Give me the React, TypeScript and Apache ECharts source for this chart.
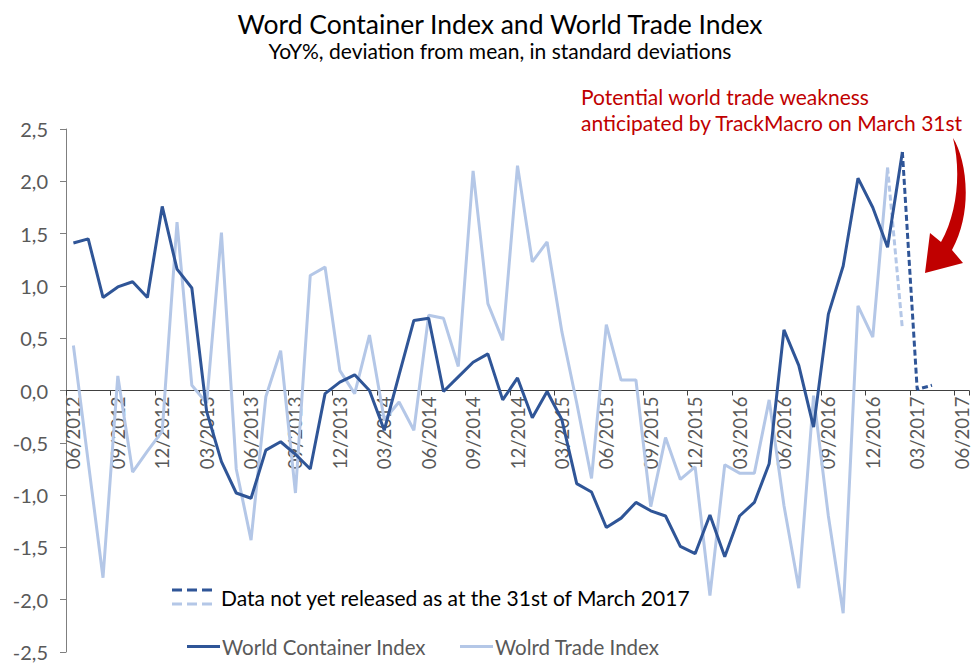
import React, { useEffect, useRef } from "react";
import * as echarts from "echarts";

// Monthly categories: 06/2012 .. 06/2017
const startYear = 2012;
const startMonth = 6;
const monthCount = 61;
const categories: string[] = [];
for (let i = 0; i < monthCount; i++) {
  const m0 = startMonth - 1 + i;
  const y = startYear + Math.floor(m0 / 12);
  const m = (m0 % 12) + 1;
  categories.push(`${m < 10 ? "0" + m : m}/${y}`);
}

// World Container Index (released data, 06/2012 .. 02/2017)
const wciValues: number[] = [
  1.41, 1.45, 0.89, 0.99, 1.04, 0.89, 1.76, 1.16, 0.98, -0.2,
  -0.68, -0.98, -1.03, -0.57, -0.49, -0.61, -0.75, -0.03, 0.08, 0.15,
  0.0, -0.38, 0.15, 0.67, 0.69, -0.01, 0.13, 0.27, 0.35, -0.09,
  0.12, -0.26, -0.01, -0.28, -0.89, -0.97, -1.31, -1.22, -1.07, -1.15,
  -1.2, -1.49, -1.56, -1.19, -1.59, -1.2, -1.07, -0.7, 0.58, 0.24,
  -0.35, 0.73, 1.19, 2.03, 1.75, 1.37, 2.28,
];
// World Container Index: data not yet released (02/2017 .. 04/2017)
const wciProjStart = 56;
const wciProjected: number[] = [2.28, 0.01, 0.05];

// World Trade Index (released data, 06/2012 .. 01/2017)
const wtiValues: number[] = [
  0.43, -0.68, -1.79, 0.14, -0.78, -0.58, -0.39, 1.61, 0.05, -0.12,
  1.51, -0.75, -1.43, -0.06, 0.38, -0.98, 1.1, 1.18, 0.19, -0.03,
  0.53, -0.28, -0.11, -0.38, 0.72, 0.69, 0.23, 2.1, 0.83, 0.48,
  2.15, 1.23, 1.42, 0.56, -0.12, -0.84, 0.63, 0.1, 0.1, -1.11,
  -0.45, -0.85, -0.73, -1.96, -0.71, -0.79, -0.79, -0.09, -1.1, -1.89,
  -0.05, -1.2, -2.13, 0.81, 0.51, 2.13,
];
// World Trade Index: data not yet released (01/2017 .. 02/2017)
const wtiProjStart = 55;
const wtiProjected: number[] = [2.13, 0.59];

const yTicks = { min: -2.5, max: 2.5, step: 0.5 };

const DARK = "#2f5597";
const LIGHT = "#b4c7e7";
const FONT = "Lato, 'Open Sans', sans-serif";

const GRID = { left: 66, right: 11, top: 129, bottom: 12 };
const CHART_H = 664;

const arrowPath =
  "M953 138 C966 158 974 210 952 250 L963 263 L925 273 L930 233 L941 242 C958 212 961 170 953 138 Z";
let registered = false;
function ensureShapes() {
  if (registered) return;
  echarts.graphic.registerShape("redArrow", echarts.graphic.extendPath(arrowPath, {}) as any);
  registered = true;
}

function padSeries(values: number[], start: number): (number | null)[] {
  const out: (number | null)[] = categories.map(() => null);
  values.forEach((v, k) => {
    out[start + k] = v;
  });
  return out;
}

function textEl(text: string, x: number, y: number, size: number, fill: string, align = "left") {
  return {
    type: "text",
    x,
    y,
    style: {
      text,
      fill,
      font: `${size}px ${FONT}`,
      textAlign: align,
      textVerticalAlign: "middle",
      align,
      verticalAlign: "middle",
    },
  };
}

export default function App() {
  const ref = useRef<HTMLDivElement>(null);
  useEffect(() => {
    if (!ref.current) return;
    ensureShapes();
    const chart = echarts.init(ref.current, undefined, { renderer: "svg" });
    // x axis sits on the zero line: shift it up from the grid's bottom edge
    const gridH = CHART_H - GRID.top - GRID.bottom;
    const zeroOffset = -gridH * ((0 - yTicks.min) / (yTicks.max - yTicks.min));
    const option: any = {
      animation: false,
      backgroundColor: "#ffffff",
      textStyle: { fontFamily: FONT },
      title: [
        {
          text: "Word Container Index and World Trade Index",
          left: 495,
          textAlign: "center",
          top: 5,
          textStyle: { fontSize: 26.5, fontWeight: "normal", color: "#000", fontFamily: FONT },
        },
        {
          text: "YoY%, deviation from mean, in standard deviations",
          left: 495,
          textAlign: "center",
          top: 35,
          textStyle: { fontSize: 21, fontWeight: "normal", color: "#000", fontFamily: FONT },
        },
      ],
      grid: { ...GRID, containLabel: false, outerBoundsMode: "none" },
      xAxis: {
        type: "category",
        data: categories,
        boundaryGap: true,
        offset: zeroOffset,
        axisLine: { onZero: false, lineStyle: { color: "#404040", width: 1 } },
        axisTick: { show: true, interval: 2, length: 5, lineStyle: { color: "#404040" } },
        axisLabel: {
          interval: 2,
          rotate: 90,
          margin: 6,
          fontSize: 18.5,
          color: "#595959",
          fontFamily: FONT,
        },
        splitLine: { show: false },
      },
      yAxis: {
        type: "value",
        min: yTicks.min,
        max: yTicks.max,
        interval: yTicks.step,
        axisLine: { show: true, lineStyle: { color: "#7f7f7f" } },
        axisTick: { show: true, length: 6, lineStyle: { color: "#7f7f7f" } },
        axisLabel: {
          fontSize: 20,
          color: "#595959",
          margin: 18,
          fontFamily: FONT,
          formatter: (v: number) => v.toFixed(1).replace(".", ","),
        },
        splitLine: { show: false },
      },
      series: [
        {
          name: "Wolrd Trade Index",
          type: "line",
          data: padSeries(wtiValues, 0),
          showSymbol: false,
          symbol: "none",
          lineStyle: { color: LIGHT, width: 3 },
          itemStyle: { color: LIGHT },
          z: 2,
        },
        {
          name: "Wolrd Trade Index (not yet released)",
          type: "line",
          data: padSeries(wtiProjected, wtiProjStart),
          showSymbol: false,
          symbol: "none",
          lineStyle: { color: LIGHT, width: 3, type: [6, 3] },
          z: 2,
        },
        {
          name: "World Container Index",
          type: "line",
          data: padSeries(wciValues, 0),
          showSymbol: false,
          symbol: "none",
          lineStyle: { color: DARK, width: 3 },
          itemStyle: { color: DARK },
          z: 3,
        },
        {
          name: "World Container Index (not yet released)",
          type: "line",
          data: padSeries(wciProjected, wciProjStart),
          showSymbol: false,
          symbol: "none",
          lineStyle: { color: DARK, width: 3, type: [6, 3] },
          z: 3,
        },
      ],
      graphic: [
        textEl("Potential world trade weakness", 581, 96, 21, "#c00000"),
        textEl("anticipated by TrackMacro on March 31st", 581, 122, 21, "#c00000"),
        { type: "redArrow", x: 0, y: 0, style: { fill: "#c00000" }, z: 10 },
        // legend: not-yet-released (dashed)
        {
          type: "line",
          shape: { x1: 172, y1: 590, x2: 212, y2: 590 },
          style: { stroke: DARK, lineWidth: 3, lineDash: [10, 5] },
        },
        {
          type: "line",
          shape: { x1: 172, y1: 604, x2: 212, y2: 604 },
          style: { stroke: LIGHT, lineWidth: 3, lineDash: [10, 5] },
        },
        textEl("Data not yet released as at the 31st of March 2017", 221, 597, 21, "#000"),
        // legend: series
        {
          type: "line",
          shape: { x1: 187, y1: 646.5, x2: 220, y2: 646.5 },
          style: { stroke: DARK, lineWidth: 3 },
        },
        textEl("World Container Index", 222, 646.5, 20.5, "#595959"),
        {
          type: "line",
          shape: { x1: 460, y1: 646.5, x2: 493, y2: 646.5 },
          style: { stroke: LIGHT, lineWidth: 3 },
        },
        textEl("Wolrd Trade Index", 495, 646.5, 20.5, "#595959"),
      ],
    };
    chart.setOption(option);
    return () => {
      chart.dispose();
    };
  }, []);
  return (
    <div
      ref={ref}
      style={{ position: "fixed", left: 0, top: 0, width: 980, height: 664, background: "#fff" }}
    />
  );
}
